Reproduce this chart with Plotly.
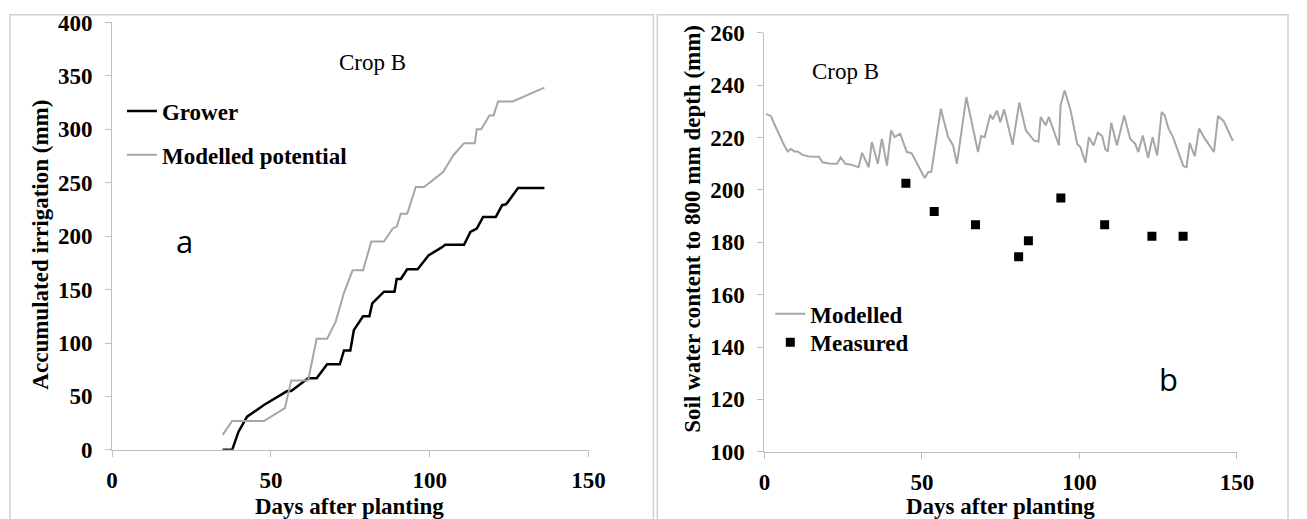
import plotly.graph_objects as go

FW, FH = 1307, 519

# ---- Panel a: accumulated irrigation ----
grower_day = [34.8, 37.8, 39.8, 42.5, 47.8, 55.1, 56.4, 61.7, 64.4, 67.7, 71.7, 73.0, 75.0, 76.1,
              79.0, 81.0, 81.9, 85.6, 88.9, 89.6, 90.9, 92.9, 96.2, 99.6, 103.5, 104.9, 110.8,
              112.8, 114.8, 116.8, 120.8, 122.8, 124.1, 127.8, 136.1]
grower_mm = [0, 0, 17, 31, 42, 55, 55, 67, 67, 80, 80, 93, 93, 112,
             125, 125, 137, 148, 148, 160, 160, 169, 169, 182, 189, 192, 192,
             204, 207, 218, 218, 229, 230, 245, 245]

potential_day = [34.8, 37.8, 47.8, 54.4, 56.4, 61.7, 64.4, 67.7, 70.4, 73.0, 75.7, 79.0, 81.6,
                 85.6, 88.3, 89.6, 90.9, 92.9, 95.6, 98.2, 104.2, 107.5, 110.8, 114.2, 114.8,
                 116.2, 118.8, 120.1, 121.5, 126.1, 136.1]
potential_mm = [14, 27, 27, 39, 65, 65, 104, 104, 120, 147, 168, 168, 195,
                195, 207, 209, 221, 221, 246, 246, 260, 276, 287, 287, 300,
                300, 313, 313, 326, 326, 339]

# ---- Panel b: soil water content ----
modelled_day = [0.5, 2.1, 3.1, 4.7, 6.3, 7.4, 8.4, 9.5, 10.5, 12.1, 14.2, 17.3, 18.4, 20.5, 23.1,
                24.2, 25.7, 27.8, 29.9, 31.0, 33.1, 34.1, 36.0, 37.3, 38.9, 40.2, 41.3, 43.1,
                45.2, 46.7, 50.9, 52.0, 53.0, 56.0, 58.3, 59.9, 61.1, 64.1, 67.8, 68.8, 69.9,
                71.7, 72.5, 73.8, 74.9, 76.1, 78.8, 80.9, 83.0, 85.6, 87.0, 87.7, 89.3, 90.3,
                93.5, 94.0, 95.3, 97.2, 99.3, 100.3, 101.9, 103.0, 104.5, 105.8, 107.2, 108.2,
                109.0, 110.1, 111.9, 114.2, 116.1, 117.7, 118.7, 120.1, 121.8, 123.2, 124.7,
                126.1, 127.1, 128.2, 129.7, 133.0, 134.0, 135.0, 136.6, 138.0, 139.6, 142.7,
                144.0, 145.8, 148.7]
modelled_mm = [229.1, 228.2, 225.3, 220.8, 217.0, 214.7, 215.7, 214.7, 214.7, 213.4, 212.8, 212.7,
               210.6, 210.1, 210.0, 212.5, 210.0, 209.6, 208.7, 214.2, 208.7, 218.3, 210.0, 219.6,
               209.3, 222.8, 220.2, 221.5, 214.5, 214.1, 204.6, 206.8, 207.0, 231.0, 220.2, 217.0,
               210.0, 235.5, 214.5, 220.6, 220.2, 228.8, 227.0, 230.4, 225.9, 230.8, 217.3, 233.4,
               222.8, 218.9, 218.5, 227.9, 224.7, 227.9, 217.0, 232.3, 238.1, 230.4, 217.6, 216.4,
               210.4, 220.2, 217.0, 221.9, 220.6, 215.7, 214.7, 225.7, 217.0, 228.5, 219.6, 217.6,
               214.5, 220.8, 212.2, 220.2, 213.2, 229.8, 228.5, 223.7, 220.2, 209.1, 208.7, 218.0,
               212.9, 223.5, 220.0, 214.5, 228.3, 226.3, 218.7]

measured_day = [44.9, 53.9, 67.0, 80.7, 83.8, 94.1, 108.0, 123.0, 132.9]
measured_mm = [202.6, 191.8, 186.7, 174.5, 180.6, 196.9, 186.7, 182.3, 182.3]

x_ticks = [0, 50, 100, 150]
ya_ticks = [0, 50, 100, 150, 200, 250, 300, 350, 400]
yb_ticks = [100, 120, 140, 160, 180, 200, 220, 240, 260]

SERIF = "Liberation Serif"
AXCOL = "#bfbfbf"
GRAY = "#a6a6a6"
FS = 23


def px(x):
    return x / FW


def py(y):
    return 1 - y / FH


fig = go.Figure()
fig.add_trace(go.Scatter(x=grower_day, y=grower_mm, mode="lines", name="Grower",
                         line=dict(color="#000000", width=2.5), xaxis="x", yaxis="y",
                         legend="legend"))
fig.add_trace(go.Scatter(x=potential_day, y=potential_mm, mode="lines", name="Modelled potential",
                         line=dict(color=GRAY, width=2), xaxis="x", yaxis="y",
                         legend="legend3"))
fig.add_trace(go.Scatter(x=modelled_day, y=modelled_mm, mode="lines", name="Modelled",
                         line=dict(color=GRAY, width=2), xaxis="x2", yaxis="y2",
                         legend="legend2"))
fig.add_trace(go.Scatter(x=measured_day, y=measured_mm, mode="markers", name="Measured",
                         marker=dict(symbol="square", color="#000000", size=9),
                         xaxis="x2", yaxis="y2", legend="legend4"))

tickfont = dict(family=SERIF, size=FS, color="#000000", weight="bold")
common_x = dict(range=[0, 150], tickvals=x_ticks, showgrid=False, zeroline=False,
                showline=True, linecolor=AXCOL, linewidth=1, ticks="outside", ticklen=6,
                tickcolor=AXCOL, tickfont=tickfont, ticklabelstandoff=4)
common_y = dict(showgrid=False, zeroline=False, showline=True, linecolor=AXCOL, linewidth=1,
                ticks="outside", ticklen=6, tickcolor=AXCOL, tickfont=tickfont,
                ticklabelstandoff=8)

legfont = dict(family=SERIF, size=FS, color="#000000", weight="bold")


def leg(x, y):
    return dict(x=px(x), y=py(y), xanchor="left", yanchor="middle", bgcolor="rgba(0,0,0,0)",
                font=legfont, itemwidth=30, borderwidth=0)


fig.update_layout(
    width=FW, height=FH, margin=dict(l=0, r=0, t=0, b=0),
    paper_bgcolor="white", plot_bgcolor="white",
    xaxis=dict(domain=[px(108), px(593)], anchor="y", **common_x),
    yaxis=dict(domain=[py(460), py(11)], anchor="x", range=[0, 400], tickvals=ya_ticks, **common_y),
    xaxis2=dict(domain=[px(772), px(1253)], anchor="y2", **common_x),
    yaxis2=dict(domain=[py(462), py(22)], anchor="x2", range=[100, 260], tickvals=yb_ticks, **common_y),
    legend=leg(118, 104),
    legend3=leg(118, 150),
    legend2=leg(778, 317),
    legend4=leg(778, 347),
    showlegend=True,
)

ann_font_b = dict(family=SERIF, size=FS, color="#000000", weight="bold")
ann_font = dict(family=SERIF, size=FS, color="#000000")
annotations = [
    dict(text="Crop B", x=px(373), y=py(53), font=ann_font),
    dict(text="Crop B", x=px(855), y=py(63), font=ann_font),
    dict(text="a", x=px(182), y=py(241), font=dict(family="Open Sans", size=31, color="#000000")),
    dict(text="b", x=px(1183), y=py(386), font=dict(family="Open Sans", size=31, color="#000000")),
    dict(text="Accumulated irrigation (mm)", x=px(35), y=py(244), textangle=-90, font=ann_font_b),
    dict(text="Soil water content to 800 mm depth (mm)", x=px(698), y=py(228), textangle=-90, font=ann_font_b),
    dict(text="Days after planting", x=px(350), y=py(519), font=ann_font_b),
    dict(text="Days after planting", x=px(1012), y=py(519), font=ann_font_b),
]
for a in annotations:
    a.update(xref="paper", yref="paper", showarrow=False, xanchor="center", yanchor="middle")
fig.update_layout(annotations=annotations)

border = dict(color="#d0d0d0", width=1.5)
fig.update_layout(shapes=[
    dict(type="rect", xref="paper", yref="paper", x0=px(4), x1=px(659), y0=-0.1, y1=py(3), line=border),
    dict(type="rect", xref="paper", yref="paper", x0=px(663), x1=px(1305), y0=-0.1, y1=py(3), line=border),
])

fig.write_html("out.html")
